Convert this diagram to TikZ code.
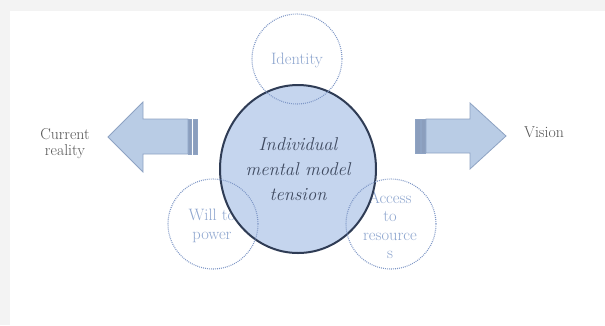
\documentclass[tikz,border=0pt]{standalone}
\usetikzlibrary{shapes.geometric}
\definecolor{bggray}{HTML}{F3F3F3}
\definecolor{mainfill}{HTML}{C5D5EE}
\definecolor{mainline}{HTML}{2F3C55}
\definecolor{maintext}{HTML}{3F4A60}
\definecolor{dotline}{HTML}{7D96C6}
\definecolor{sattext}{HTML}{8EA6CF}
\definecolor{arrfill}{HTML}{B9CCE5}
\definecolor{arrline}{HTML}{8EA3C3}
\definecolor{stripe}{HTML}{8B9EBD}
\definecolor{sidetext}{HTML}{555555}
\tikzset{
  mainell/.style={ellipse, draw=mainline, line width=2pt, fill=mainfill,
    minimum width=156pt, minimum height=168pt, inner sep=0pt,
    text=maintext, align=center, font=\fontsize{18.5}{25}\selectfont\itshape},
  satcirc/.style={circle, draw=dotline, line width=1.1pt,
    dash pattern=on 0.9pt off 1.1pt, minimum size=90pt, inner sep=0pt},
  sattxt/.style={text=sattext, align=center, inner sep=0pt,
    font=\fontsize{16.5}{18.5}\selectfont},
  sidetxt/.style={text=sidetext, align=center, inner sep=0pt,
    font=\fontsize{15.8}{16}\selectfont},
  arrbody/.style={fill=arrfill, draw=arrline, line width=0.8pt, line join=miter},
  arrstripe/.style={fill=stripe, draw=arrline, line width=0.5pt}
}
\begin{document}
\begin{tikzpicture}[x=1pt,y=-1pt]
\useasboundingbox (0,0) rectangle (605,325);
\fill[bggray] (0,0) rectangle (605,325);
\fill[white] (10,11) rectangle (605,325);

% left arrow (pointing left)
\draw[arrbody] (108,137) -- (143,102) -- (143,119) -- (188,119) -- (188,154)
  -- (143,154) -- (143,172) -- cycle;
\draw[arrstripe] (188.5,119) rectangle (191.5,154);
\draw[arrstripe] (193,119) rectangle (197.5,154);

% right arrow (pointing right)
\draw[arrbody] (506,136) -- (470,103) -- (470,119) -- (426,119) -- (426,153)
  -- (470,153) -- (470,169) -- cycle;
\draw[arrstripe] (415,119) rectangle (420,153);
\draw[arrstripe] (421.5,119) rectangle (425,153);

% side labels
\node[sidetxt] (cur) at (65,144) {Current\\reality};
\node[sidetxt] (vis) at (544,132) {Vision};

% satellite texts
\node[sattxt] (idt) at (297,60) {Identity};
\node[sattxt] (wtp) at (212,226) {Will to\\power};
\node[sattxt] (acc) at (390,225) {Access\\to\\resource\\s};

% main ellipse
\node[mainell] (main) at (298,169) {Individual\\mental model\\tension};

% dotted circles on top
\node[satcirc] (cid) at (297,59) {};
\node[satcirc] (cwp) at (213,224) {};
\node[satcirc] (cac) at (391,224) {};
\end{tikzpicture}
\end{document}
